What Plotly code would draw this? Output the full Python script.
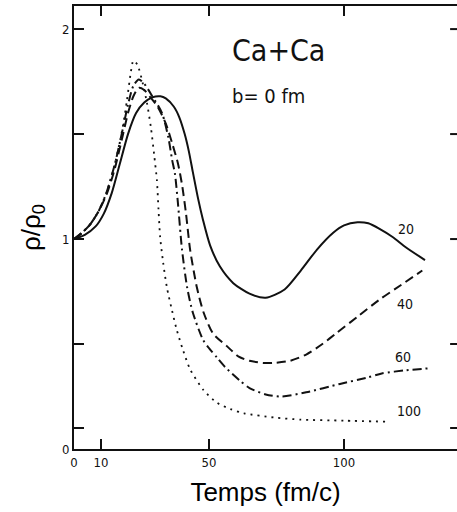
import plotly.graph_objects as go

# Central-density evolution rho/rho0 vs time for Ca+Ca, b = 0 fm,
# one curve per bombarding energy (labels 20, 40, 60, 100).
t_20 = [0, 4, 8, 11, 14, 17, 20, 23, 26, 29, 32, 34, 37, 39, 41, 42.5, 44, 46, 47.8,
        50.4, 54, 59, 65, 71, 78, 84, 90, 96, 100, 105, 109, 113, 118, 123, 130]
rho_20 = [1.0, 1.02, 1.06, 1.12, 1.22, 1.36, 1.50, 1.60, 1.65, 1.675, 1.68, 1.67, 1.63,
          1.58, 1.50, 1.42, 1.32, 1.19, 1.09, 0.97, 0.87, 0.79, 0.74, 0.72, 0.76,
          0.85, 0.95, 1.03, 1.065, 1.08, 1.075, 1.05, 1.01, 0.96, 0.90]

t_40 = [0, 3, 6, 9, 12, 15, 18, 20, 22, 24, 26, 28, 31, 34, 36.5, 38.5, 40, 41.5, 43,
        45.5, 48, 51.5, 56.6, 61, 65, 70, 74, 80, 86, 92, 97, 105, 113, 121, 129]
rho_40 = [1.0, 1.03, 1.07, 1.13, 1.21, 1.33, 1.49, 1.60, 1.68, 1.72, 1.71, 1.68, 1.63,
          1.55, 1.45, 1.36, 1.26, 1.12, 0.95, 0.77, 0.65, 0.55, 0.49, 0.44, 0.42, 0.41,
          0.41, 0.42, 0.45, 0.50, 0.55, 0.63, 0.71, 0.78, 0.85]

t_60 = [0, 3, 6, 9, 12, 15, 18, 20, 22, 24, 26, 29, 32.6, 35, 36.3, 37.4, 38.5, 40,
        41.9, 44, 47.8, 50, 53, 56, 61.5, 65, 71, 77, 86, 98.5, 108.5, 114, 123, 132]
rho_60 = [1.0, 1.03, 1.07, 1.13, 1.22, 1.35, 1.52, 1.64, 1.73, 1.76, 1.74, 1.68, 1.60,
          1.48, 1.38, 1.31, 1.17, 0.95, 0.77, 0.65, 0.52, 0.48, 0.435, 0.39, 0.325,
          0.29, 0.26, 0.25, 0.27, 0.31, 0.34, 0.36, 0.375, 0.385]

t_100 = [0, 3, 6, 9, 12, 15, 18, 19.6, 21, 22, 23.5, 25.5, 27, 28.5, 29.7, 30.7, 31.3,
         31.9, 33, 34.4, 36.3, 38, 40.4, 43, 48, 53, 58, 63, 74, 84, 100, 116]
rho_100 = [1.0, 1.03, 1.07, 1.13, 1.22, 1.35, 1.53, 1.66, 1.79, 1.85, 1.83, 1.74, 1.65,
           1.53, 1.40, 1.28, 1.14, 1.01, 0.89, 0.77, 0.66, 0.57, 0.47, 0.38, 0.28, 0.22,
           0.19, 0.17, 0.15, 0.14, 0.135, 0.13]

energy_labels = ["20", "40", "60", "100"]
label_t = [123, 122.6, 122, 124]
label_rho = [1.05, 0.69, 0.44, 0.18]

x_tickvals = [0, 10, 50, 100]
x_ticktext = ["0", "10", "50", "100"]
y_tickvals = [0, 1, 2]
y_ticktext = ["0", "1", "2"]
y_minor_ticks = [0.1, 0.5, 1.5]
right_ticks = [0.1, 0.5, 1.0, 1.5, 2.0]

ink = "#111111"
label_font = "DejaVu Sans Condensed"

fig = go.Figure()
styles = [
    (t_20, rho_20, "solid", 2.0),
    (t_40, rho_40, "9px,5px", 2.0),
    (t_60, rho_60, "9px,4px,2px,4px", 2.0),
    (t_100, rho_100, "2px,5px", 1.8),
]
for xs, ys, dash, w in styles:
    fig.add_trace(go.Scatter(
        x=xs, y=ys, mode="lines",
        line=dict(color=ink, width=w, dash=dash, shape="spline", smoothing=0.7),
        showlegend=False, hoverinfo="skip",
    ))

for txt, tx, ty in zip(energy_labels, label_t, label_rho):
    fig.add_annotation(x=tx, y=ty, text=txt, showarrow=False,
                       font=dict(family=label_font, size=14, color=ink))

fig.add_annotation(x=57.8, y=1.90, text="Ca+Ca", showarrow=False, xanchor="left",
                   font=dict(family=label_font, size=30, color=ink))
fig.add_annotation(x=57.8, y=1.68, text="b= 0 fm", showarrow=False, xanchor="left",
                   font=dict(family=label_font, size=20, color=ink))

# short tick stubs along the right-hand edge
for yv in right_ticks:
    fig.add_shape(type="line", xref="paper", yref="y", x0=0.982, x1=1.0, y0=yv, y1=yv,
                  line=dict(color=ink, width=2))

fig.update_layout(
    width=457, height=512,
    margin=dict(l=74, r=0, t=6, b=63),
    paper_bgcolor="white", plot_bgcolor="white",
    xaxis=dict(
        range=[0, 141.85], tickvals=x_tickvals, ticktext=x_ticktext,
        showgrid=False, zeroline=False, showline=True, linecolor=ink, linewidth=2,
        mirror="allticks", ticks="inside", ticklen=10, tickwidth=1.5, tickcolor=ink,
        tickfont=dict(family=label_font, size=13, color=ink),
        title=dict(text="Temps (fm/c)", standoff=14,
                   font=dict(family="Liberation Sans", size=26, color="black")),
    ),
    yaxis=dict(
        range=[0, 2.11], tickvals=y_tickvals, ticktext=y_ticktext,
        showgrid=False, zeroline=False, showline=True, linecolor=ink, linewidth=2,
        ticks="inside", ticklen=10, tickwidth=1.5, tickcolor=ink,
        tickfont=dict(family=label_font, size=13, color=ink),
        minor=dict(tickvals=y_minor_ticks, ticks="inside", ticklen=10, tickwidth=1.5,
                   tickcolor=ink, showgrid=False),
        title=dict(text="ρ/ρ<sub>0</sub>", standoff=14,
                   font=dict(family="Liberation Sans", size=26, color="black")),
    ),
)

fig.write_html("out.html")
